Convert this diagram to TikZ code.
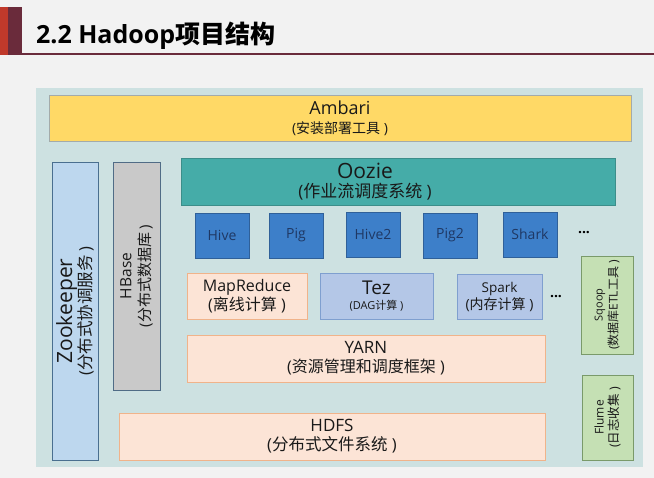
\documentclass[tikz,border=0pt]{standalone}
\usepackage{fontspec}
\setmainfont{Open Sans}
\newfontfamily\cjk{Noto Sans CJK SC}
\newcommand{\zh}[1]{{\cjk #1}}
\newcommand{\fs}[1]{\fontsize{#1}{#1}\selectfont}

\definecolor{pagebg}{HTML}{F2F2F2}
\definecolor{titlered}{HTML}{C0392B}
\definecolor{titlemaroon}{HTML}{6A2B3B}
\definecolor{panelbg}{HTML}{CDE1E1}
\definecolor{ambarifill}{HTML}{FFD966}
\definecolor{ambaridraw}{HTML}{A3ABAA}
\definecolor{zkfill}{HTML}{BDD7EE}
\definecolor{zkdraw}{HTML}{4A6F8F}
\definecolor{hbasefill}{HTML}{C9C9C9}
\definecolor{hbasedraw}{HTML}{506C86}
\definecolor{ooziefill}{HTML}{45ACA8}
\definecolor{ooziedraw}{HTML}{3C8E8A}
\definecolor{toolfill}{HTML}{3D7FC9}
\definecolor{tooldraw}{HTML}{2F6099}
\definecolor{tooltext}{HTML}{1F3864}
\definecolor{peachfill}{HTML}{FCE4D6}
\definecolor{peachdraw}{HTML}{F0B38A}
\definecolor{enginefill}{HTML}{B4C7E7}
\definecolor{enginedraw}{HTML}{7F9FCF}
\definecolor{greenfill}{HTML}{C5E0B4}
\definecolor{greendraw}{HTML}{7A9A6A}

\begin{document}
\begin{tikzpicture}[x=1pt, y=-1pt]

\tikzstyle{linegap}=[font=\fontsize{10}{#1}\selectfont]
\tikzstyle{layer}=[draw, inner sep=1pt, align=center, line width=0.8pt, text=black!90]
\tikzstyle{tool}=[layer, fill=toolfill, draw=tooldraw, minimum width=54pt, minimum height=45pt, text=tooltext, font=\fs{14}]
\tikzstyle{peach}=[layer, fill=peachfill, draw=peachdraw, minimum height=46pt]
\tikzstyle{engine}=[layer, fill=enginefill, draw=enginedraw, minimum height=46pt]
\tikzstyle{sidebar}=[layer, rotate=90]
\tikzstyle{dots}=[font=\fs{14}\bfseries]

% --- page and title ---
\fill[pagebg] (0,0) rectangle (654,478);
\useasboundingbox (0,0) rectangle (654,478);
\fill[titlered] (0,7) rectangle (8,55);
\fill[titlemaroon] (8,7) rectangle (22,55);
\draw[titlemaroon, line width=2pt] (22,54.5) -- (654,54.5);
\node[anchor=base west, inner sep=0pt] (title) at (36,44) {\fs{25}\bfseries 2.2 Hadoop\zh{项目结构}};

% --- panel ---
\node[fill=panelbg, minimum width=607pt, minimum height=379pt, inner sep=0pt] (panel) at (339.5,277.5) {};

% --- management ---
\node[layer, linegap=19, fill=ambarifill, draw=ambaridraw, minimum width=582pt, minimum height=46pt] (ambari) at (340,118)
  {\fs{18}Ambari\\\fs{14}(\zh{安装部署工具} )};

% --- side services ---
\node[sidebar, linegap=19, fill=zkfill, draw=zkdraw, minimum width=298pt, minimum height=46pt] (zk) at (75,311)
  {\fs{21}Zookeeper\\\fs{16.5}(\zh{分布式协调服务} )};
\node[sidebar, linegap=19, fill=hbasefill, draw=hbasedraw, minimum width=228pt, minimum height=47pt] (hbase) at (136.5,276)
  {\fs{15.5}HBase\\\fs{15}(\zh{分布式数据库} )};
\node[sidebar, linegap=15, fill=greenfill, draw=greendraw, minimum width=98pt, minimum height=52pt] (sqoop) at (607,305)
  {\fs{11}Sqoop\\\fs{12}(\zh{数据库}ETL\zh{工具} )};
\node[sidebar, linegap=15, fill=greenfill, draw=greendraw, minimum width=85pt, minimum height=51pt] (flume) at (607.5,417.5)
  {\fs{12}Flume\\\fs{12.5}(\zh{日志收集} )};

% --- workflow ---
\node[layer, fill=ooziefill, draw=ooziedraw, minimum width=434pt, minimum height=47pt] (oozie) at (398,181.5) {};
\node[align=center, linegap=19, inner sep=1pt, text=black!90] (oozietext) at (365,182)
  {\fs{21}Oozie\\\fs{17}(\zh{作业流调度系统} )};

% --- query tools ---
\node[tool] (hive) at (222,235.5) {Hive};
\node[tool] (pig) at (296,235.5) {Pig};
\node[tool] (hive2) at (373,234.5) {Hive2};
\node[tool] (pig2) at (450,235.5) {Pig2};
\node[tool] (shark) at (530,234.5) {Shark};
\node[dots] (dotsa) at (584,233) {...};

% --- compute engines ---
\node[peach, linegap=16, minimum width=120pt] (mr) at (247,296)
  {\fs{16}MapReduce\\\fs{16}(\zh{离线计算} )};
\node[engine, linegap=15, minimum width=113pt] (tez) at (376.5,296)
  {\fs{19}Tez\\\fs{11}(DAG\zh{计算} )};
\node[engine, linegap=17, minimum width=85pt, minimum height=45pt] (spark) at (499.5,296.5)
  {\fs{13.5}Spark\\\fs{14}(\zh{内存计算} )};
\node[dots] (dotsb) at (556,297) {...};

% --- resources and storage ---
\node[peach, linegap=19, minimum width=358pt, minimum height=47pt] (yarn) at (366,358.5)
  {\fs{17}YARN\\\fs{16}(\zh{资源管理和调度框架} )};
\node[peach, linegap=19, minimum width=426pt, minimum height=47pt] (hdfs) at (332,436.5)
  {\fs{17}HDFS\\\fs{16.5}(\zh{分布式文件系统} )};

\end{tikzpicture}
\end{document}
